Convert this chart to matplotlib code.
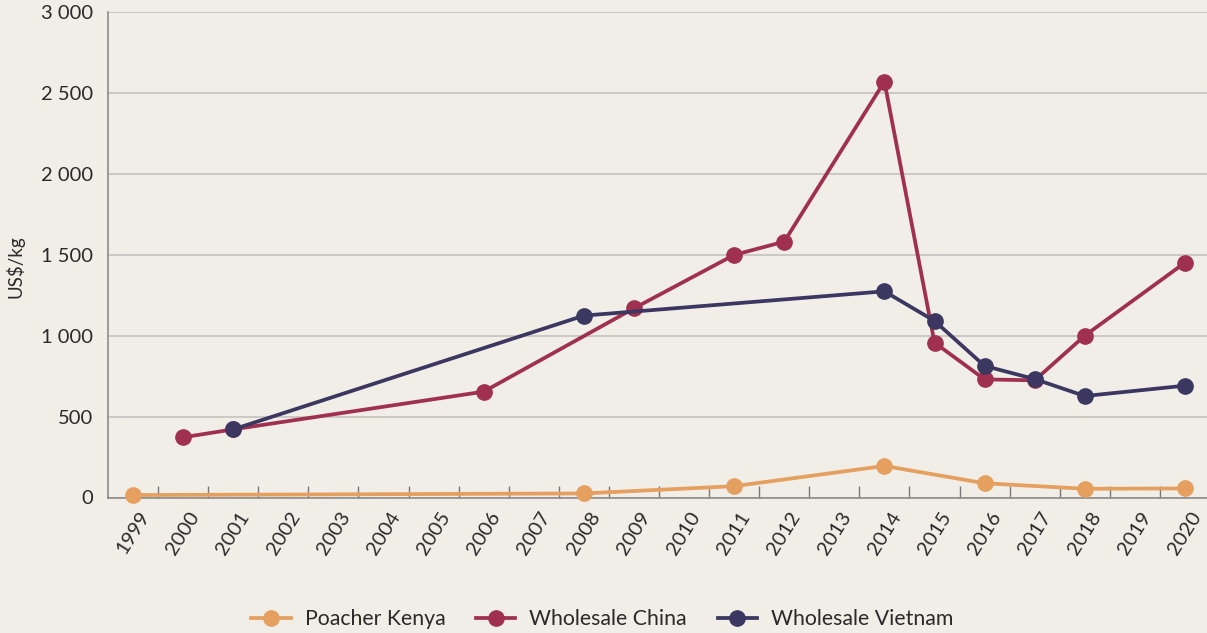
import numpy as np
import matplotlib.pyplot as plt
from matplotlib.ticker import FixedLocator, FuncFormatter

plt.rcParams['font.family'] = ['Lato', 'DejaVu Sans']

years = list(range(1999, 2021))

kenya_years = [1999, 2008, 2011, 2014, 2016, 2018, 2020]
kenya_vals = [15, 25, 70, 195, 88, 54, 56]

china_years = [2000, 2001, 2006, 2009, 2011, 2012, 2014, 2015, 2016, 2017, 2018, 2020]
china_vals = [372, 421, 654, 1169, 1499, 1581, 2570, 957, 730, 724, 1000, 1451]

vietnam_years = [2001, 2008, 2014, 2015, 2016, 2017, 2018, 2020]
vietnam_vals = [421, 1124, 1274, 1091, 813, 732, 627, 691]

bg = '#f1eee8'
c_kenya = '#e5a060'
c_china = '#a0304f'
c_vietnam = '#3b3760'
txt = '#2a2a2a'

fig = plt.figure(figsize=(12.07, 6.33), dpi=100, facecolor=bg)
ax = fig.add_axes([108 / 1207, 1 - 497.5 / 633, 1 - 108 / 1207, (497.5 - 12) / 633])
ax.set_facecolor(bg)

def pos(ys):
    return [y - years[0] for y in ys]

for ys, vals, col, lab in [(kenya_years, kenya_vals, c_kenya, 'Poacher Kenya'),
                           (china_years, china_vals, c_china, 'Wholesale China'),
                           (vietnam_years, vietnam_vals, c_vietnam, 'Wholesale Vietnam')]:
    ax.plot(pos(ys), vals, color=col, lw=2.7, marker='o', ms=11,
            label=lab, clip_on=False, zorder=3)

ax.set_xlim(-0.5, 21.44)
ax.set_ylim(0, 3000)

ax.set_xticks(range(len(years)))
ax.set_xticklabels([str(y) for y in years], rotation=58, fontsize=14.5, color=txt)
ax.xaxis.set_minor_locator(FixedLocator(np.arange(0.5, len(years) - 1, 1.0)))
ax.tick_params(axis='x', which='major', length=0, pad=8)
ax.tick_params(axis='x', which='minor', length=8.5, direction='in', width=1.0, color='#777777')

ax.set_yticks(np.arange(0, 3001, 500))
ax.yaxis.set_major_formatter(FuncFormatter(lambda v, p: f"{v:,.0f}".replace(',', ' ')))
ax.tick_params(axis='y', length=0, pad=11, labelsize=14.5, labelcolor=txt)

ax.grid(axis='y', color='#c0bebb', lw=1.1, zorder=0)
ax.set_axisbelow(True)
for s in ['top', 'right']:
    ax.spines[s].set_visible(False)
for s in ['left', 'bottom']:
    ax.spines[s].set_color('#858585')
    ax.spines[s].set_linewidth(1.1)

fig.text(15 / 1207, 1 - 267 / 633, 'US$/kg', rotation=90, ha='center', va='center',
         fontsize=13.5, color=txt)

leg = fig.legend(loc='center', bbox_to_anchor=(0.499, 1 - 619 / 633), ncol=3, frameon=False,
                 fontsize=15.3, handlelength=1.85, handletextpad=0.65, columnspacing=1.45,
                 markerscale=1.0)
for t in leg.get_texts():
    t.set_color(txt)

fig.savefig('out.png', dpi=100, facecolor=bg)
